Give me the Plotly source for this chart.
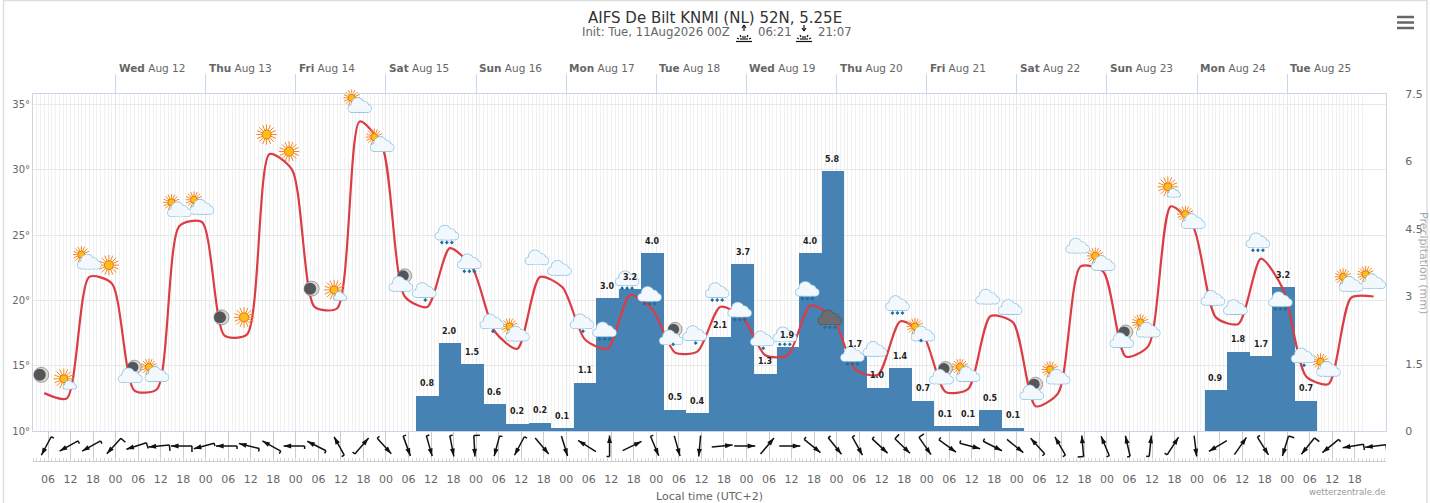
import numpy as np
import plotly.graph_objects as go

# hours relative to Wed Aug 12 00:00 local, one point per 6h forecast step
step_hours = [-19, -13, -7, -1, 5, 11, 17, 23, 29, 35, 41, 47, 53, 59, 65, 71, 77, 83, 89, 95,
              101, 107, 113, 119, 125, 131, 137, 143, 149, 155, 161, 167, 173, 179, 185, 191, 197, 203, 209, 215,
              221, 227, 233, 239, 245, 251, 257, 263, 269, 275, 281, 287, 293, 299, 305, 311, 317, 323, 329, 335]

temperature = [12.9, 12.5, 21.8, 21.3, 13.1, 13.2, 25.7, 26.0, 17.3, 17.4, 31.2, 30.0, 19.5, 19.4, 33.7, 31.8, 20.3, 19.5, 24.0, 22.5,
               17.6, 16.3, 21.8, 21.0, 17.0, 16.3, 20.4, 19.3, 16.0, 16.1, 19.5, 18.7, 15.8, 15.8, 19.6, 18.7, 14.7, 14.3, 18.4, 17.4,
               13.0, 13.2, 18.8, 18.3, 11.9, 12.9, 22.6, 22.2, 15.7, 16.5, 27.2, 25.6, 18.7, 18.2, 23.2, 20.8, 14.2, 13.6, 20.2, 20.3]

precipitation = [0, 0, 0, 0, 0, 0, 0, 0, 0, 0, 0, 0, 0, 0, 0, 0, 0, 0.78, 1.96, 1.49,
                 0.60, 0.16, 0.18, 0.06, 1.07, 2.96, 3.16, 3.96, 0.47, 0.40, 2.09, 3.72, 1.27, 1.87, 3.96, 5.79, 1.66, 0.96, 1.40, 0.67,
                 0.11, 0.11, 0.46, 0.07, 0, 0, 0, 0, 0, 0, 0, 0, 0.91, 1.76, 1.67, 3.20, 0.67, 0, 0, 0]

# compass heading the arrow points to, and feather size on its tail
wind_heading = [208, 241, 241, 222, 252, 264, 270, 255, 270, 284, 299, 270, 297, 331, 41, 138, 160, 164, 169, 177,
                195, 208, 140, 163, 302, 0, 64, 157, 164, 185, 85, 90, 40, 90, 129, 141, 151, 133, 134, 145,
                126, 105, 117, 129, 318, 330, 355, 337, 347, 6, 33, 173, 239, 35, 148, 197, 219, 231, 260, 263]
wind_barb = [1, 1, 1, 2, 2, 2, 2, 1, 1, 1, 1, 1, 1, 1, 1, 1, 1, 1, 1, 2,
             1, 1, 0, 0, 0, 1, 0, 1, 0, 0, 0, 0, 0, 0, 1, 1, 1, 1, 2, 2,
             1, 1, 1, 0, 1, 1, 2, 1, 1, 1, 1, 0, 0, 0, 1, 2, 2, 1, 2, 2]

icon_kind = ["moon", "sun_small", "sun_cloud", "sun", "moon_cloud", "sun_cloud", "sun_cloud", "sun_cloud", "moon", "sun",
             "sun", "sun", "moon", "sun_small", "sun_cloud", "sun_cloud", "moon_cloud", "drizzle", "rain", "rain",
             "drizzle", "sun_cloud", "cloud", "cloud", "drizzle", "rain", "rain", "rain", "moon_drizzle", "drizzle",
             "rain", "rain", "drizzle", "rain", "rain", "storm", "rain", "cloud", "rain", "sun_drizzle",
             "moon_cloud", "sun_cloud", "cloud", "cloud", "moon_cloud", "sun_cloud", "cloud", "sun_cloud", "moon_cloud", "sun_cloud",
             "sun_small", "sun_cloud", "cloud", "cloud", "rain", "rain", "drizzle", "sun_cloud", "sun_cloud", "sun_cloud"]
icon_temp = [14.3, 14.0, 23.2, 22.7, 14.5, 14.6, 27.2, 27.4, 18.7, 18.7, 32.7, 31.4, 20.9, 20.8, 35.2, 32.2, 21.5, 20.8, 25.2, 23.0,
             18.4, 17.7, 23.3, 22.5, 18.4, 17.8, 21.7, 20.5, 17.4, 17.5, 20.8, 19.3, 17.1, 17.4, 20.9, 18.7, 15.9, 16.3, 19.8, 17.7,
             14.4, 14.6, 20.3, 19.5, 13.2, 14.4, 24.2, 23.1, 17.2, 18.0, 28.7, 26.3, 20.2, 19.5, 24.6, 20.1, 15.8, 15.0, 21.5, 21.7]

day_hours = [0, 24, 48, 72, 96, 120, 144, 168, 192, 216, 240, 264, 288, 312]
day_names = ["Wed", "Thu", "Fri", "Sat", "Sun", "Mon", "Tue", "Wed", "Thu", "Fri", "Sat", "Sun", "Mon", "Tue"]
day_dates = ["Aug 12", "Aug 13", "Aug 14", "Aug 15", "Aug 16", "Aug 17", "Aug 18",
             "Aug 19", "Aug 20", "Aug 21", "Aug 22", "Aug 23", "Aug 24", "Aug 25"]

wind_tick_hours = list(range(-18, 336, 6))
wind_tick_labels = [f"{h % 24:02d}" for h in wind_tick_hours]
temp_ticks = [10, 15, 20, 25, 30, 35]
temp_labels = ["10°", "15°", "20°", "25°", "30°", "35°"]
precip_ticks = [0, 1.5, 3, 4.5, 6, 7.5]
precip_labels = ["0", "1.5", "3", "4.5", "6", "7.5"]

# page geometry, pixels
W, H = 1430, 503
PLOT_L, PLOT_R, PLOT_T, PLOT_B, WIND_B = 33, 1386, 94.3, 431, 461
X_RANGE = [-22, 338.3]
TEMP_RANGE = [10, 35.78]
PX_PER_HOUR = (PLOT_R - PLOT_L) / (X_RANGE[1] - X_RANGE[0])
PX_PER_DEG = (PLOT_B - PLOT_T) / (TEMP_RANGE[1] - TEMP_RANGE[0])
GREY = "#666666"
FONT = "DejaVu Sans"


def px(x):
    return x / W


def py(y):
    return 1 - y / H


fig = go.Figure()

fig.add_trace(go.Bar(x=step_hours, y=precipitation, width=6, marker=dict(color="#4682b4", line_width=0),
                     xaxis="x", yaxis="y"))
fig.add_trace(go.Scatter(x=step_hours, y=temperature, mode="lines",
                         line=dict(color="#dc3c44", width=2.2, shape="spline", smoothing=0.7),
                         xaxis="x", yaxis="y2"))


def add_layer(kinds, dx, dy, size, color, symbol="circle", line=None, angle=0):
    # one marker per icon of the given kinds, shifted by dx, dy pixels from the icon centre
    ids = [i for i, k in enumerate(icon_kind) if k in kinds]
    xs = [step_hours[i] + (dx - 3) / PX_PER_HOUR for i in ids]
    ys = [icon_temp[i] - dy / PX_PER_DEG for i in ids]
    fig.add_trace(go.Scatter(x=xs, y=ys, mode="markers", xaxis="x", yaxis="y2", hoverinfo="skip", cliponaxis=False,
                             marker=dict(size=size, color=color, symbol=symbol, angle=angle,
                                         line=line or dict(width=0))))


def add_sun(kinds, dx, dy, rays, core):
    ray_line = dict(color="#f58a1f", width=1)
    add_layer(kinds, dx, dy, rays, "#f58a1f", "asterisk-open", ray_line)
    add_layer(kinds, dx, dy, rays, "#f58a1f", "asterisk-open", ray_line, angle=22)
    add_layer(kinds, dx, dy, core, "#fdc012", "circle", dict(color="#f37021", width=1))


def add_moon(kinds, dx, dy, size):
    add_layer(kinds, dx, dy, size, "#d9d9cf", "circle", dict(color="#555555", width=0.5))
    add_layer(kinds, dx - 1.5, dy, size - 3, "#55565a")


def add_cloud(kinds, dx, dy, scale=1.0, edge="#8fc3e3", fill="#f2f8fc"):
    # flat bottom from squares, rounded ends and top from circles
    lumps = [(-8, 3.5, 7, "circle"), (8, 3.5, 7, "circle"), (-2, -1, 12, "circle"), (4, 1, 9, "circle"),
             (-4, 3, 8, "square"), (0, 3, 8, "square"), (4, 3, 8, "square")]
    for lx, ly, ls, sym in lumps:
        add_layer(kinds, dx + lx * scale, dy + ly * scale, ls * scale, edge, sym, dict(color=edge, width=1.5))
    for lx, ly, ls, sym in lumps:
        add_layer(kinds, dx + lx * scale, dy + ly * scale, ls * scale, fill, sym)


def add_drops(kinds, offsets):
    for ox in offsets:
        add_layer(kinds, ox, 10, 3, "#1f6f9e", "diamond")


add_sun(["sun"], 0, 0, 17, 9)
add_sun(["sun_small"], 0, 0, 17, 8)
add_sun(["sun_cloud", "sun_drizzle"], -5, -4, 14, 7)
add_moon(["moon"], 0, 0, 15)
add_moon(["moon_cloud", "moon_drizzle"], 3, -5, 14)
add_cloud(["sun_small"], 6, 6, 0.55)
add_cloud(["sun_cloud", "sun_drizzle"], 3, 3)
add_cloud(["moon_cloud", "moon_drizzle"], -1, 3)
add_cloud(["cloud", "drizzle", "rain"], 0, 0)
add_cloud(["storm"], 0, 0, edge="#555555", fill="#6b6d70")
add_drops(["rain", "storm"], [-5, 0, 5])
add_drops(["drizzle", "sun_drizzle", "moon_drizzle"], [1])

# wind arrows live on their own axis whose units are pixels
shaft_x, shaft_y, tip_x, tip_y, tip_angle = [], [], [], [], []
ARROW_PX = 21
for hour, heading, barb in zip(step_hours, wind_heading, wind_barb):
    rad = np.deg2rad(heading)
    ux, uy = np.sin(rad), np.cos(rad)
    cx, cy = hour + 2 / PX_PER_HOUR, 15
    tail = (cx - ux * ARROW_PX / 2 / PX_PER_HOUR, cy - uy * ARROW_PX / 2)
    tip = (cx + ux * ARROW_PX / 2 / PX_PER_HOUR, cy + uy * ARROW_PX / 2)
    shaft_x += [tail[0], tip[0], None]
    shaft_y += [tail[1], tip[1], None]
    if barb:
        feather = 3 * barb
        shaft_x += [tail[0], tail[0] - uy * feather / PX_PER_HOUR, None]
        shaft_y += [tail[1], tail[1] + ux * feather, None]
    tip_x.append(tip[0])
    tip_y.append(tip[1])
    tip_angle.append(heading)
fig.add_trace(go.Scatter(x=shaft_x, y=shaft_y, mode="lines", line=dict(color="#111111", width=1.5),
                         hoverinfo="skip", xaxis="x2", yaxis="y3"))
fig.add_trace(go.Scatter(x=tip_x, y=tip_y, mode="markers", hoverinfo="skip", xaxis="x2", yaxis="y3",
                         marker=dict(symbol="arrow", size=8, angle=tip_angle, color="#111111", line_width=0)))

annotations = []
for hour, value in zip(step_hours, precipitation):
    if value > 0:
        annotations.append(dict(x=hour, y=value, xref="x", yref="y", yshift=12, showarrow=False,
                                text=f"<b>{value:.1f}</b>", font=dict(size=8, color="#222222", family=FONT)))
for hour, name, date in zip(day_hours, day_names, day_dates):
    annotations.append(dict(x=hour, y=py(68), xref="x", yref="paper", xanchor="left", yanchor="middle", xshift=1,
                            showarrow=False, text=f"<b>{name}</b> {date}",
                            font=dict(size=10.5, color=GREY, family=FONT)))


def page_text(x, y, text, size, color, anchor="left", angle=0):
    annotations.append(dict(x=px(x), y=py(y), xref="paper", yref="paper", xanchor=anchor, yanchor="middle",
                            showarrow=False, text=text, textangle=angle,
                            font=dict(size=size, color=color, family=FONT)))


page_text(715, 18, "AIFS De Bilt KNMI (NL) 52N, 5.25E", 15, "#333333", "center")
page_text(580, 32, "Init: Tue, 11Aug2026 00Z", 11.7, GREY)
page_text(756, 32, "06:21", 11.7, GREY)
page_text(816, 32, "21:07", 11.7, GREY)
page_text(1387, 492, "wetterzentrale.de", 8.6, "#999999", "right")
page_text(1424, 263, "Precipitation (mm)", 11, "#aaaaaa", "center", 90)

shapes = [dict(type="rect", xref="paper", yref="paper", x0=px(3.5), x1=px(1427), y0=py(0.5), y1=py(510),
               line=dict(color="#dddddd", width=1.5), layer="below")]
for bar_y in [17, 22.5, 28]:
    shapes.append(dict(type="line", xref="paper", yref="paper", x0=px(1397), x1=px(1414), y0=py(bar_y), y1=py(bar_y),
                       line=dict(color=GREY, width=2.5)))


def sun_icon(cx, up):
    # sunrise / sunset glyph in the subtitle line
    segs = [(cx - 8, 41.5, cx + 8, 41.5), (cx - 4, 39, cx + 4, 39), (cx - 2, 37, cx + 2, 37),
            (cx - 7, 38, cx - 5, 39), (cx + 7, 38, cx + 5, 39), (cx - 4, 35, cx - 3, 37), (cx + 4, 35, cx + 3, 37),
            (cx, 25, cx, 31)]
    segs += [(cx - 2, 28, cx, 25), (cx + 2, 28, cx, 25)] if up else [(cx - 2, 28, cx, 31), (cx + 2, 28, cx, 31)]
    for x0, y0, x1, y1 in segs:
        shapes.append(dict(type="line", xref="paper", yref="paper", x0=px(x0), x1=px(x1), y0=py(y0), y1=py(y1),
                           line=dict(color="#111111", width=1.2)))


sun_icon(744, True)
sun_icon(804, False)

fig.update_layout(
    width=W, height=H, autosize=False, showlegend=False, margin=dict(l=0, r=0, t=0, b=0, autoexpand=False),
    paper_bgcolor="white", plot_bgcolor="white", bargap=0, hovermode=False,
    font=dict(family=FONT, color=GREY), annotations=annotations, shapes=shapes,
    xaxis=dict(domain=[px(PLOT_L), px(PLOT_R)], range=X_RANGE, anchor="y", side="top", tickmode="array",
               tickvals=day_hours, showticklabels=False, ticks="outside", ticklen=19, tickcolor="#ccd6eb",
               automargin=False, showgrid=True, gridcolor="#e2e6ee", zeroline=False, showline=True,
               linecolor="#ccd6eb", mirror=True,
               minor=dict(tickmode="array", tickvals=list(range(-22, 333)), showgrid=True,
                          gridcolor="#f1f1f1", gridwidth=1, ticks="")),
    yaxis=dict(domain=[py(PLOT_B), py(PLOT_T)], range=[0, 7.5], anchor="x", side="right", tickmode="array",
               tickvals=precip_ticks, ticktext=precip_labels, showgrid=False, zeroline=False, automargin=False,
               ticklabelstandoff=16, tickfont=dict(size=11, color=GREY), showline=True, linecolor="#d0d5de", mirror=True),
    yaxis2=dict(range=TEMP_RANGE, overlaying="y", anchor="x", side="left", tickmode="array", tickvals=temp_ticks,
                ticktext=temp_labels, showgrid=True, gridcolor="#e8e8e8", zeroline=False, automargin=False,
                tickfont=dict(size=10, color=GREY), ticklabelstandoff=2),
    xaxis2=dict(domain=[px(PLOT_L), px(PLOT_R)], matches="x", anchor="y3", side="bottom", tickmode="array",
                tickvals=wind_tick_hours, ticktext=wind_tick_labels, tickangle=0, tickfont=dict(size=11, color=GREY),
                automargin=False, ticklabelstandoff=8, showgrid=True, gridcolor="#cccccc", zeroline=False,
                showline=True, linecolor="#cccccc",
                minor=dict(ticks="inside", ticklen=3, tickmode="linear", tick0=0, dtick=1,
                           tickcolor="#d8d8d8", showgrid=False),
                title=dict(text="Local time (UTC+2)", font=dict(size=11, color=GREY), standoff=7)),
    yaxis3=dict(domain=[py(WIND_B), py(PLOT_B)], range=[0, 30], anchor="x2", visible=False, automargin=False),
)

fig.write_html("out.html", config=dict(displayModeBar=False),
               post_script="document.body.style.margin='0';document.body.style.overflow='hidden';")
